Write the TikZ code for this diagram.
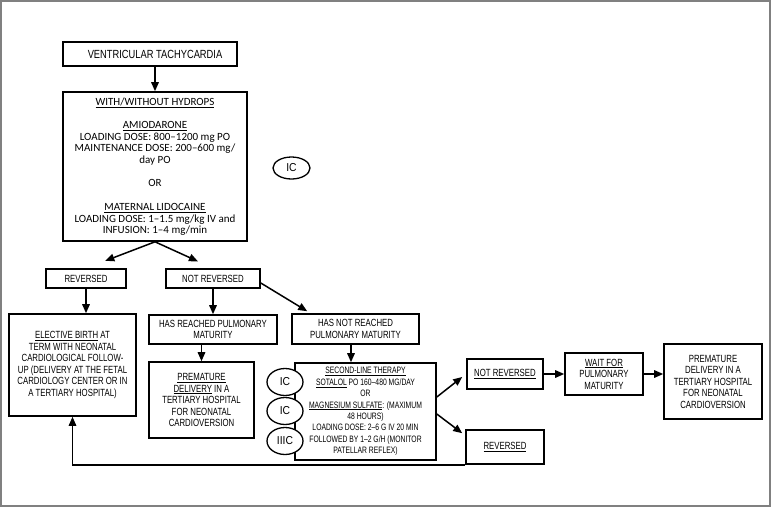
\documentclass[tikz,border=0pt]{standalone}
\usepackage{fontspec}
\setmainfont{Liberation Sans}
\newfontfamily\narrowfont[FakeStretch=0.75]{Liberation Sans}
\newfontfamily\slfont[FakeStretch=0.73]{Liberation Sans}
\newfontfamily\topfont[FakeStretch=0.79]{Liberation Sans}
\newfontfamily\gillfont{Carlito}
\newfontfamily\ellfont[FakeStretch=0.9]{Liberation Sans}
\usetikzlibrary{arrows.meta,calc,shapes.geometric}
\tikzset{
  box/.style={draw, line width=1.6pt, inner sep=0pt, align=center,
    font=\narrowfont\fontsize{10.4}{11.5}\selectfont},
  arr/.style={line width=1.5pt, -{Triangle[length=9pt,width=7.5pt]}},
  grade/.style={draw, ellipse, line width=1.3pt, fill=white, inner sep=0pt,
    font=\ellfont\fontsize{11.5}{12}\selectfont}
}
\begin{document}
\begin{tikzpicture}[x=1pt,y=-1pt]
\useasboundingbox (0,0) rectangle (771,507);
\draw[black!50, line width=1.5pt] (1,1) rectangle (770,506);

\node[box, minimum width=174, minimum height=24, font=\topfont\fontsize{11.8}{13}\selectfont] (vt) at (150,54) {\hspace*{10pt}VENTRICULAR TACHYCARDIA};

\node[box, minimum width=184, minimum height=149, font=\gillfont\fontsize{11}{11.7}\selectfont] (drug) at (155,166.5)
 {\underline{WITH/WITHOUT HYDROPS}\\[11.7pt]
  \underline{AMIODARONE}\\
  LOADING DOSE: 800–1200 mg PO\\
  MAINTENANCE DOSE: 200–600 mg/\\
  day PO\\[11.7pt]
  OR\\[11.7pt]
  \underline{MATERNAL LIDOCAINE}\\
  LOADING DOSE: 1–1.5 mg/kg IV and\\
  INFUSION: 1–4 mg/min};

\node[grade, minimum width=37, minimum height=22] (ic0) at (291.5,168) {IC};

\node[box, minimum width=80, minimum height=19] (rev) at (86,278.5) {REVERSED};
\node[box, minimum width=94, minimum height=19] (nrev) at (213,278.5) {NOT REVERSED};

\node[box, minimum width=127, minimum height=102] (elect) at (72.5,365)
 {\underline{ELECTIVE BIRTH} AT\\
  TERM WITH NEONATAL\\
  CARDIOLOGICAL FOLLOW-\\
  UP (DELIVERY AT THE FETAL\\
  CARDIOLOGY CENTER OR IN\\
  A TERTIARY HOSPITAL)};

\node[box, minimum width=128, minimum height=29] (hr) at (213,329.5)
 {HAS REACHED PULMONARY\\ MATURITY};
\node[box, minimum width=105, minimum height=76] (prem) at (201.5,400)
 {\underline{PREMATURE}\\ \underline{DELIVERY} IN A\\ TERTIARY HOSPITAL\\ FOR NEONATAL\\ CARDIOVERSION};

\node[box, minimum width=127, minimum height=30] (hnr) at (355.5,329)
 {HAS NOT REACHED\\ PULMONARY MATURITY};

\node[box, minimum width=141, minimum height=97, font=\slfont\fontsize{9.3}{11.4}\selectfont] (sl) at (365.5,411.5)
 {\underline{SECOND-LINE THERAPY}\\
  \underline{SOTALOL} PO 160–480 MG/DAY\\
  OR\\
  \underline{MAGNESIUM SULFATE}: (MAXIMUM\\
  48 HOURS)\\
  LOADING DOSE: 2–6 G IV 20 MIN\\
  FOLLOWED BY 1–2 G/H (MONITOR\\
  PATELLAR REFLEX)};

\node[grade, minimum width=36, minimum height=27] (g1) at (285,382) {IC};
\node[grade, minimum width=36, minimum height=27] (g2) at (285,411) {IC};
\node[grade, minimum width=36, minimum height=27] (g3) at (285,441) {IIIC};

\node[box, minimum width=76, minimum height=30] (nr2) at (505,374) {\underline{NOT REVERSED}};
\node[box, minimum width=78, minimum height=34] (rev2) at (505,447) {\underline{REVERSED}};
\node[box, minimum width=78, minimum height=42] (wait) at (604,374)
 {\underline{WAIT FOR}\\ PULMONARY\\ MATURITY};
\node[box, minimum width=98, minimum height=75] (prem2) at (713,381.5)
 {PREMATURE\\ DELIVERY IN A\\ TERTIARY HOSPITAL\\ FOR NEONATAL\\ CARDIOVERSION};

% connectors
\draw[arr] (drug.north |- vt.south) -- (drug.north);
\draw[arr] (drug.south) -- ($(drug.south)!0.72!(rev.north)$);
\draw[arr] (drug.south) -- ($(drug.south)!0.74!(nrev.north)$);
\draw[arr] (rev.south) -- (rev.south |- elect.north);
\draw[arr] (nrev.south) -- (nrev.south |- hr.north);
\draw[arr] (prem.north |- hr.south) -- (prem.north);
\draw[arr] ([yshift=-4.5pt]nrev.east) -- ([xshift=16pt,yshift=2pt]hnr.north west);
\draw[arr] ([xshift=-4.5pt]hnr.south) -- ([xshift=-4.5pt]hnr.south |- sl.north);
\draw[arr] ([yshift=14.5pt]sl.east) -- ([xshift=-4pt,yshift=-3pt]nr2.west);
\draw[arr] ([yshift=-2.5pt]sl.east) -- ([xshift=-3pt,yshift=-4pt]rev2.north west);
\draw[arr] (nr2.east) -- (wait.west);
\draw[arr] (wait.east) -- (wait.east -| prem2.west);
\draw[arr] (rev2.south west) -| (elect.south);
\end{tikzpicture}
\end{document}
